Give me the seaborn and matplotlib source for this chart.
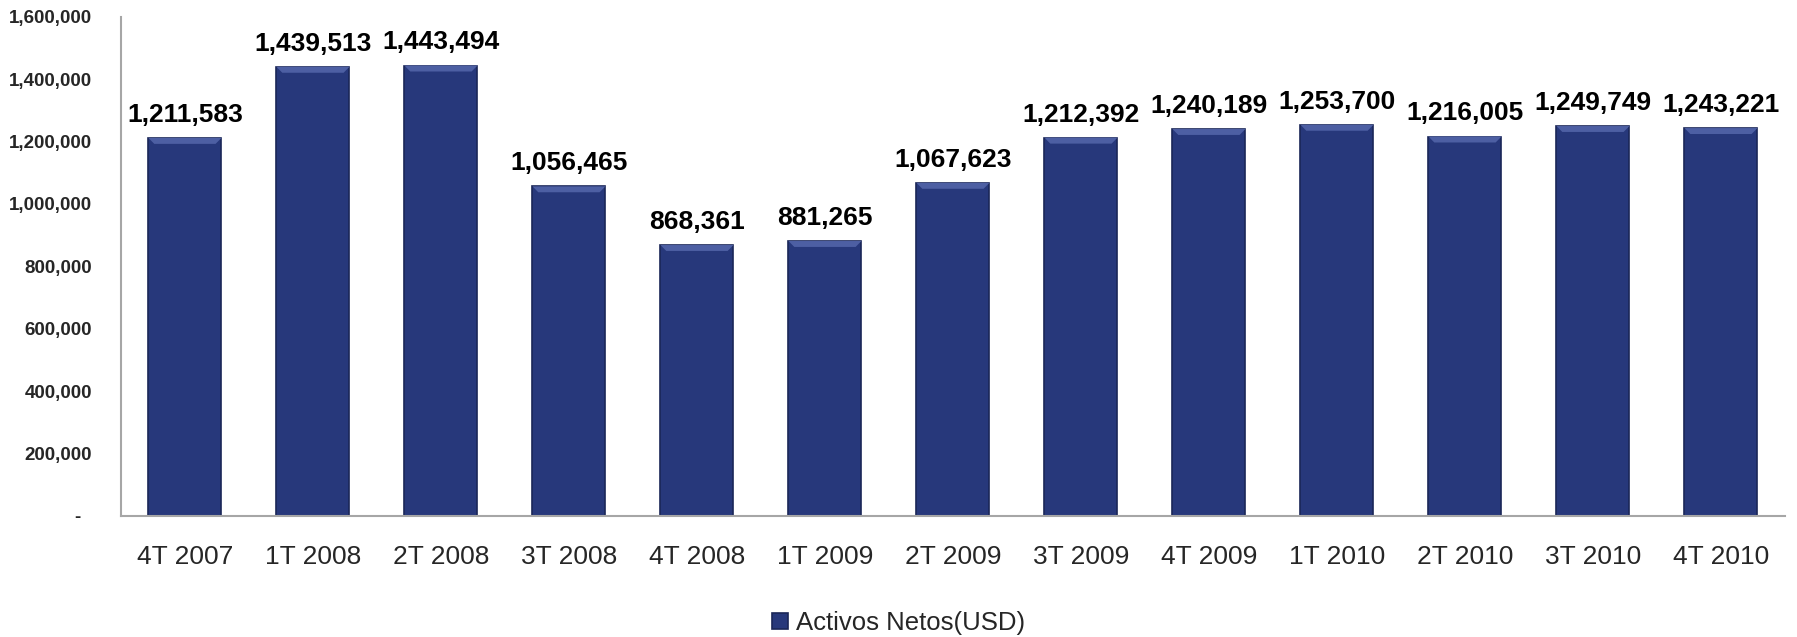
import matplotlib
matplotlib.use("Agg")
import matplotlib.pyplot as plt
import matplotlib.ticker as mticker
from matplotlib.patches import Polygon
import seaborn as sns
import pandas as pd

quarters = ["4T 2007", "1T 2008", "2T 2008", "3T 2008", "4T 2008", "1T 2009", "2T 2009",
            "3T 2009", "4T 2009", "1T 2010", "2T 2010", "3T 2010", "4T 2010"]
net_assets = [1211583, 1439513, 1443494, 1056465, 868361, 881265, 1067623,
              1212392, 1240189, 1253700, 1216005, 1249749, 1243221]
series_name = "Activos Netos(USD)"
y_ticks = [0, 200000, 400000, 600000, 800000, 1000000, 1200000, 1400000, 1600000]

bar_color = "#27387b"
edge_color = "#1a2657"
top_color = "#4d5fa3"

sns.set_style("white")
plt.rcParams["font.family"] = ["Liberation Sans", "DejaVu Sans"]

df = pd.DataFrame({"quarter": quarters, "value": net_assets})

fig = plt.figure(figsize=(17.97, 6.37), dpi=100)
ax = fig.add_axes([0.0673, 0.19, 0.926, 0.7837])

sns.barplot(data=df, x="quarter", y="value", color=bar_color, width=0.57,
            edgecolor=edge_color, linewidth=1.2, saturation=1,
            label=series_name, ax=ax)

# small bevel on top of each bar
bevel = 19000
for p in ax.patches:
    x0 = p.get_x()
    w = p.get_width()
    h = p.get_height()
    inset = w * 0.08
    ax.add_patch(Polygon([[x0, h], [x0 + w, h], [x0 + w - inset, h - bevel],
                          [x0 + inset, h - bevel]], closed=True,
                         facecolor=top_color, edgecolor="none", zorder=3))

for c in ax.containers:
    ax.bar_label(c, labels=[f"{v:,.0f}" for v in net_assets], padding=8,
                 fontsize=19, fontweight="bold", color="black")

ax.set_ylim(0, 1600000)
ax.set_xlim(-0.5, len(quarters) - 0.5)
ax.set_yticks(y_ticks)
ax.yaxis.set_major_formatter(mticker.FuncFormatter(
    lambda v, p: "-  " if v == 0 else f"{v:,.0f}"))
ax.tick_params(axis="y", labelsize=13.5, pad=21, length=0)
ax.tick_params(axis="x", labelsize=19, pad=21, length=0)
for lab in ax.get_yticklabels():
    lab.set_fontweight("bold")

ax.set_xlabel("")
ax.set_ylabel("")
for side in ["top", "right"]:
    ax.spines[side].set_visible(False)
for side in ["left", "bottom"]:
    ax.spines[side].set_color("#a6a6a6")
    ax.spines[side].set_linewidth(1.5)

leg = ax.get_legend()
if leg is not None:
    leg.remove()
handles, labels = ax.get_legend_handles_labels()
fig.legend(handles[:1], labels[:1], loc="center", bbox_to_anchor=(0.5, 0.022),
           frameon=False, fontsize=18.5, handlelength=0.6, handleheight=0.6,
           handletextpad=0.3)

fig.savefig("out.png", dpi=100)
